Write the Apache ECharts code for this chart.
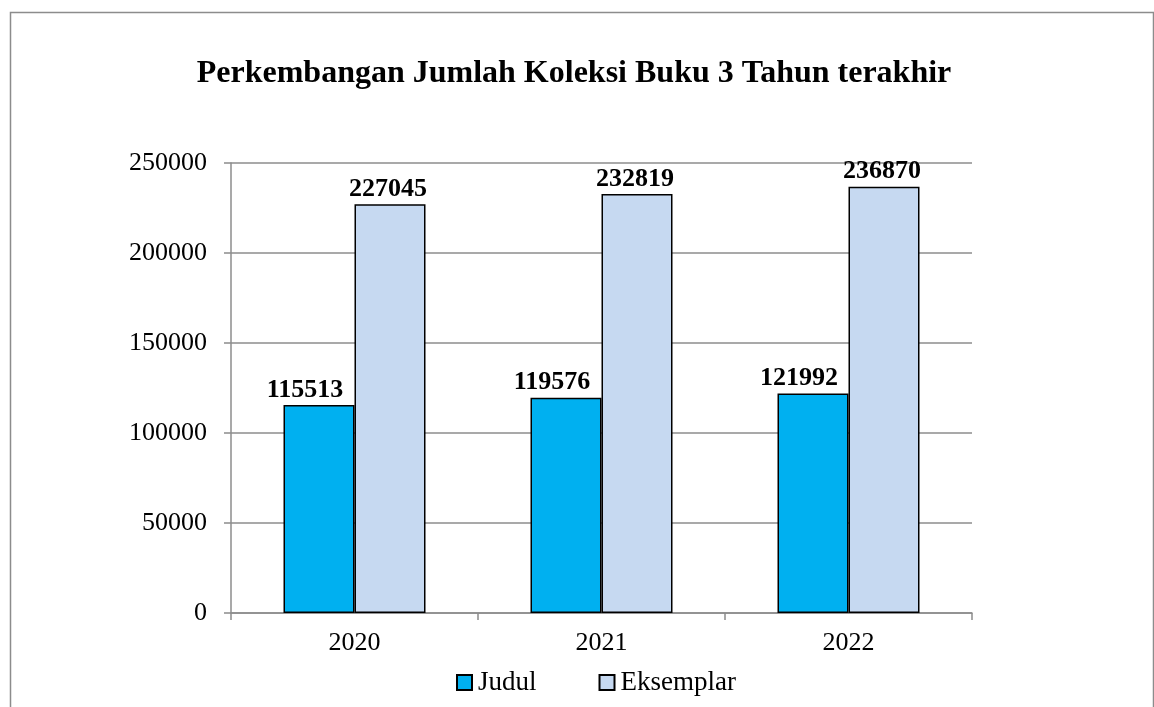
<!DOCTYPE html>
<html><head><meta charset="utf-8">
<script src="https://cdn.jsdelivr.net/npm/echarts@6/dist/echarts.min.js"></script>
<style>html,body{margin:0;padding:0;background:#fff}#c{width:1154px;height:707px}</style>
</head><body><div id="c"></div>
<script>
const categories = ['2020', '2021', '2022'];
const judul = [115513, 119576, 121992];
const eksemplar = [227045, 232819, 236870];
const yTicks = [0, 50000, 100000, 150000, 200000, 250000];

const font = '"Liberation Serif", "Times New Roman", serif';
const chart = echarts.init(document.getElementById('c'));
chart.setOption({
  animation: false,
  backgroundColor: '#fff',
  graphic: [{
    type: 'polyline', silent: true,
    shape: { points: [[10.5, 720], [10.5, 12.5], [1153.5, 12.5], [1153.5, 720]] },
    style: { stroke: '#8c8c8c', lineWidth: 1.5, fill: null }
  }],
  title: {
    text: 'Perkembangan Jumlah Koleksi Buku 3 Tahun terakhir',
    left: 569, textAlign: 'center', top: 53,
    textStyle: { fontFamily: font, fontWeight: 'bold', fontSize: 32, color: '#000' }
  },
  legend: {
    top: 664, left: 451, itemGap: 62,
    itemWidth: 15, itemHeight: 15, icon: 'rect',
    textStyle: { fontFamily: font, fontSize: 27, color: '#000', padding: [0, 0, 0, 1] },
    data: ['Judul', 'Eksemplar']
  },
  grid: { left: 231, right: 182, top: 163, bottom: 94 },
  xAxis: {
    type: 'category', data: categories,
    axisLine: { lineStyle: { color: '#8c8c8c', width: 1.5 } },
    axisTick: { show: true, length: 7, lineStyle: { color: '#8c8c8c', width: 1.5 } },
    axisLabel: { fontFamily: font, fontSize: 26, color: '#000', margin: 17 }
  },
  yAxis: {
    type: 'value', min: 0, max: 250000, interval: 50000,
    axisLine: { show: true, lineStyle: { color: '#8c8c8c', width: 1.5 } },
    axisTick: { show: true, length: 7, lineStyle: { color: '#8c8c8c', width: 1.5 } },
    splitLine: { lineStyle: { color: '#8c8c8c', width: 1.5 } },
    axisLabel: { fontFamily: font, fontSize: 26, color: '#000', margin: 24,
      formatter: v => yTicks.includes(v) ? String(v) : '' }
  },
  series: [
    { name: 'Judul', type: 'bar', data: judul, barWidth: 71, barGap: '0%',
      itemStyle: { color: '#00B0F0', borderColor: '#000', borderWidth: 1.5 },
      label: { show: true, position: 'top', offset: [-14, 0], distance: 2,
        fontFamily: font, fontWeight: 'bold', fontSize: 26, color: '#000' } },
    { name: 'Eksemplar', type: 'bar', data: eksemplar, barWidth: 71, barGap: '0%',
      itemStyle: { color: '#C6D9F1', borderColor: '#000', borderWidth: 1.5 },
      label: { show: true, position: 'top', offset: [-2, 0], distance: 2,
        fontFamily: font, fontWeight: 'bold', fontSize: 26, color: '#000' } }
  ]
});
</script></body></html>
